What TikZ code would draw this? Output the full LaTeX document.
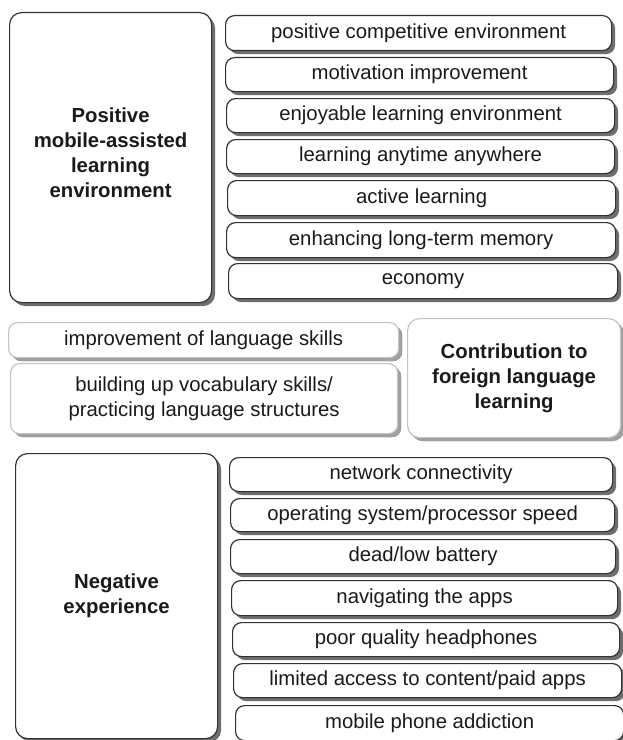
\documentclass[tikz,border=0pt]{standalone}
\usepackage{fontspec}
\setmainfont{Liberation Sans}
\usetikzlibrary{shadows}
\definecolor{edge}{HTML}{333333}
\definecolor{lightedge}{HTML}{C4C4C4}
\definecolor{shade}{HTML}{6E6E6E}
\definecolor{lightshade}{HTML}{A0A0A0}
\definecolor{ink}{HTML}{1A1A1A}
\tikzset{
  box/.style={draw=edge, line width=1.2bp, rounded corners=9bp, fill=white,
    anchor=north west, inner sep=0pt, align=center, text=ink,
    font=\fontsize{20.4}{25}\selectfont,
    drop shadow={shadow xshift=3.5bp, shadow yshift=-3.5bp, fill=shade, opacity=1}},
  bigbox/.style={box, rounded corners=12bp},
  lightbox/.style={box, draw=lightedge,
    drop shadow={shadow xshift=3.5bp, shadow yshift=-3.5bp, fill=lightshade, opacity=1}},
  lightbig/.style={lightbox, rounded corners=12bp},
  titletext/.style={font=\bfseries\fontsize{20.4}{25}\selectfont},
  freetitle/.style={titletext, align=center, inner sep=0pt, text=ink}
}
\newcommand\BX[7]{\node[#1,minimum width={(#5-#3)*1bp},minimum height={(#6-#4)*1bp}] (#2) at (#3,#4) {#7};}
\begin{document}
\begin{tikzpicture}[x=1bp,y=-1bp]
\useasboundingbox (0,0) rectangle (623,740);
% top block
\BX{bigbox}{pos}{9}{12}{211}{302}{}
\node[freetitle] (postitle) at ([yshift=5bp]pos.center) {Positive\\mobile-assisted\\learning\\environment};
\BX{box}{r1}{225}{15}{611}{50}{positive competitive environment}
\BX{box}{r2}{225}{57}{613}{91}{motivation improvement}
\BX{box}{r3}{226}{98}{614}{132}{enjoyable learning environment}
\BX{box}{r4}{226}{139}{614}{173}{learning anytime anywhere}
\BX{box}{r5}{227}{180}{615}{215}{active learning}
\BX{box}{r6}{226}{222}{615}{257}{enhancing long-term memory}
\BX{box}{r7}{228}{263}{617}{298}{economy}
% middle block
\BX{lightbox}{m1}{8}{322}{398}{357}{improvement of language skills}
\BX{lightbox}{m2}{10}{363}{397}{433}{building up vocabulary skills/\\practicing language structures}
\BX{lightbig,titletext}{con}{407}{318}{620}{437}{Contribution to\\foreign language\\learning}
% bottom block
\BX{bigbox,titletext}{neg}{15}{453}{217}{738}{Negative\\experience}
\BX{box}{n1}{229}{457}{612}{491}{network connectivity}
\BX{box}{n2}{230}{498}{614}{531}{operating system/processor speed}
\BX{box}{n3}{230}{539}{615}{573}{dead/low battery}
\BX{box}{n4}{231}{580}{617}{615}{navigating the apps}
\BX{box}{n5}{232}{622}{619}{656}{poor quality headphones}
\BX{box}{n6}{233}{663}{621}{697}{limited access to content/paid apps}
\BX{box}{n7}{235}{705}{623}{740}{mobile phone addiction}
\end{tikzpicture}
\end{document}
